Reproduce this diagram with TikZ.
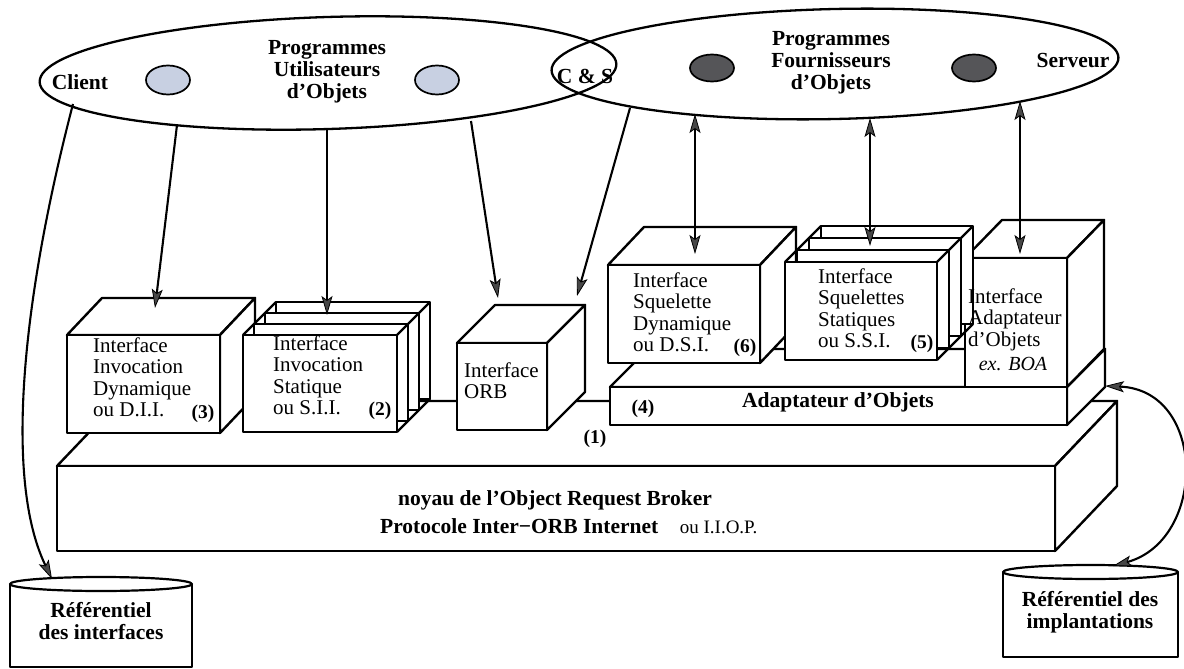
\documentclass[tikz,border=0pt]{standalone}
\usepackage{fontspec}
\setmainfont{Liberation Serif}
\usetikzlibrary{arrows.meta,shapes.geometric}
\definecolor{lightoval}{RGB}{200,208,226}
\definecolor{darkoval}{RGB}{85,85,88}
\newcommand{\drawcube}[6]{%
  \path[face] (#1,#2) -- ({#1+#5},{#2-#6}) -- ({#3+#5},{#2-#6}) -- (#3,#2) -- cycle;
  \path[face] (#3,#2) -- ({#3+#5},{#2-#6}) -- ({#3+#5},{#4-#6}) -- (#3,#4) -- cycle;
  \path[face] (#1,#2) rectangle (#3,#4);}
\newcommand{\drawstack}[5]{%
  \foreach \k in {3,2,1,0}{\path[face] ({#1+\k*#5},{#2-\k*#5}) rectangle ({#3+\k*#5},{#4-\k*#5});}
  \draw[edge] (#1,#2) -- ({#1+3*#5},{#2-3*#5});
  \draw[edge] (#3,#2) -- ({#3+3*#5},{#2-3*#5});
  \draw[edge] (#3,#4) -- ({#3+3*#5},{#4-3*#5});}
\newcommand{\linesL}[1]{\begin{tabular}[t]{@{}l@{}}#1\end{tabular}}
\newcommand{\linesC}[1]{\begin{tabular}[t]{@{}c@{}}#1\end{tabular}}
\begin{document}
\begin{tikzpicture}[x=1pt,y=-1pt,
  edge/.style={line width=2.4pt, line join=round},
  face/.style={draw=black, fill=white, line width=2.4pt, line join=round},
  tip/.tip={Stealth[length=19pt,width=11pt,inset=4pt,fill=black!72,line width=0.8pt]},
  arr/.style={line width=2.1pt, -tip},
  darr/.style={line width=2.1pt, tip-tip},
  rtxt/.style={inner sep=0pt, anchor=base west, font=\fontsize{21}{21.5}\selectfont},
  btxt/.style={inner sep=0pt, anchor=base, font=\bfseries\fontsize{21.5}{22}\selectfont},
  nb/.style={inner sep=0pt, anchor=base, font=\bfseries\fontsize{19.5}{21}\selectfont},
  bigell/.style={draw, ellipse, line width=2.3pt, inner sep=0pt, outer sep=0pt},
  oval/.style={draw, ellipse, line width=1.7pt, inner sep=0pt, minimum width=44pt, minimum height=29pt},
  cyl/.style={draw, line width=2.2pt, fill=white, line join=round}
]
\useasboundingbox (0,0) rectangle (1184,669);

% base slab (ORB core)
\drawcube{57}{466}{1055}{551}{62}{65}
% object adapter slab
\drawcube{610}{387}{1067}{425}{38}{38}
% DII
\drawcube{67}{335}{220}{433}{35}{37}
% SII stack
\drawstack{243}{335}{397}{432}{11}
% ORB interface
\drawcube{457}{343}{547}{430}{38}{38}
% DSI
\drawcube{608}{265}{760}{363}{36}{38}
% BOA
\drawcube{965}{258}{1067}{387}{37}{38}
% SSI stack
\drawstack{785}{262}{937}{360}{12}

% ellipses
\node[bigell, minimum width=577pt, minimum height=112pt, rotate=1.8] (userEll) at (328,73) {};
\node[bigell, minimum width=567pt, minimum height=110pt, rotate=1.3] (provEll) at (835,64) {};
\node[oval, fill=lightoval] (ovU1) at (168,80) {};
\node[oval, fill=lightoval] (ovU2) at (437,80) {};
\node[oval, fill=darkoval, minimum height=27pt] (ovP1) at (712,68) {};
\node[oval, fill=darkoval, minimum height=27pt] (ovP2) at (974,68) {};

\node[btxt] (client) at (80,90) {Client};
\node[btxt] (progU) at (327,55) {\linesC{Programmes\\Utilisateurs\\d’Objets}};
\node[btxt] (cs) at (585,84) {C \& S};
\node[btxt] (progF) at (831,46) {\linesC{Programmes\\Fournisseurs\\d’Objets}};
\node[btxt] (serveur) at (1073,68) {Serveur};

% box texts
\node[rtxt] (diiT) at (93,352) {\linesL{Interface\\Invocation\\Dynamique\\ou D.I.I.}};
\node[nb] (n3) at (203,418) {(3)};
\node[rtxt] (siiT) at (273,350) {\linesL{Interface\\Invocation\\Statique\\ou S.I.I.}};
\node[nb] (n2) at (380,415) {(2)};
\node[rtxt] (orbT) at (464,377) {\linesL{Interface\\ORB}};
\node[rtxt] (dsiT) at (633,287) {\linesL{Interface\\Squelette\\Dynamique\\ou D.S.I.}};
\node[nb] (n6) at (745,352) {(6)};
\node[rtxt] (ssiT) at (818,283) {\linesL{Interface\\Squelettes\\Statiques\\ou S.S.I.}};
\node[nb] (n5) at (922,348) {(5)};
\node[rtxt] (boaT) at (968,303) {\linesL{Interface\\Adaptateur\\d’Objets}};
\node[inner sep=0pt, anchor=base, font=\itshape\fontsize{20}{21.5}\selectfont] (boaE) at (1013,370) {ex. BOA};

\node[nb] (n4) at (643,413) {(4)};
\node[btxt] (adapt) at (838,407) {Adaptateur d’Objets};
\node[nb] (n1) at (595,443) {(1)};
\node[btxt] (noyau) at (555,505) {noyau de l’Object Request Broker};
\node[btxt, anchor=base west] (iiop) at (380,533) {Protocole Inter−ORB Internet\quad{\mdseries\fontsize{19}{21}\selectfont ou I.I.O.P.}};

% repositories
\draw[cyl] (10,584) -- (10,667) -- (192,667) -- (192,584);
\draw[cyl] (101,584) ellipse [x radius=91pt, y radius=7pt];
\node[btxt] (refI) at (101,617) {\linesC{Référentiel\\des interfaces}};
\draw[cyl] (1003,572) -- (1003,657) -- (1178,657) -- (1178,572);
\draw[cyl] (1090.5,572) ellipse [x radius=87.5pt, y radius=7pt];
\node[btxt] (refP) at (1090,606) {\linesC{Référentiel des\\implantations}};

% connector end points
\coordinate (cliS) at (73,104);
\coordinate (refItop) at (52,579);
\coordinate (a1s) at (177,125);
\coordinate (a1e) at (155,308);
\coordinate (a2s) at (327,129);
\coordinate (a2e) at (327,315);
\coordinate (a3s) at (471,121);
\coordinate (a3e) at (498,298);
\coordinate (a4s) at (630,108);
\coordinate (a4e) at (577,296);
\coordinate (d1s) at (695,114);
\coordinate (d1e) at (695,254);
\coordinate (d2s) at (870,118);
\coordinate (d2e) at (870,246);
\coordinate (d3s) at (1020,101);
\coordinate (d3e) at (1020,254);
\coordinate (boaC) at (1105,386);
\coordinate (refPtop) at (1113,566);

\draw[arr] (cliS) .. controls (22,300) and (4,480) .. (refItop);
\draw[arr] (a1s) -- (a1e);
\draw[arr] (a2s) -- (a2e);
\draw[arr] (a3s) -- (a3e);
\draw[arr] (a4s) -- (a4e);
\draw[darr] (d1s) -- (d1e);
\draw[darr] (d2s) -- (d2e);
\draw[darr] (d3s) -- (d3e);
\draw[darr] (boaC) .. controls (1207,390) and (1207,540) .. (refPtop);
\end{tikzpicture}
\end{document}
